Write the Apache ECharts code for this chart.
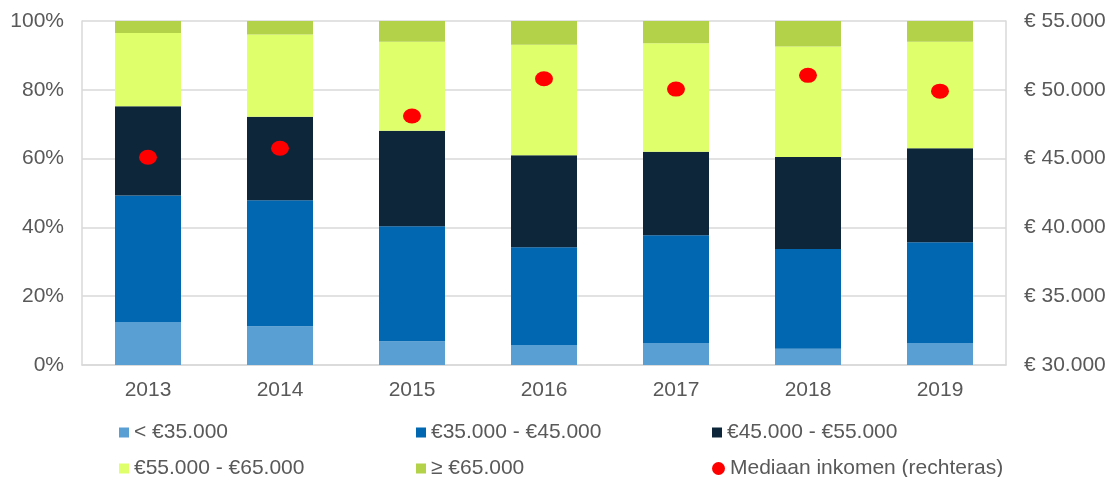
<!DOCTYPE html>
<html>
<head>
<meta charset="utf-8">
<script src="https://cdn.jsdelivr.net/npm/echarts@6/dist/echarts.min.js"></script>
<style>
    html, body { margin: 0; padding: 0; background: #fff; }
    #main { width: 1111px; height: 477px; }
</style>
</head>
<body>
<div id="main"></div>
<script>
// jaren
var years = ['2013', '2014', '2015', '2016', '2017', '2018', '2019'];

// aandeel per inkomensklasse (%)
var lt35 = [12.5, 11.3, 6.9, 5.8, 6.4, 4.7, 6.4];
var k35_45 = [36.8, 36.6, 33.4, 28.4, 31.3, 29.0, 29.3];
var k45_55 = [25.9, 24.3, 27.8, 26.8, 24.3, 26.8, 27.3];
var k55_65 = [21.3, 23.9, 25.9, 32.1, 31.5, 32.1, 31.0];
var ge65 = [3.5, 3.9, 6.0, 6.9, 6.5, 7.4, 6.0];

// mediaan inkomen (rechteras)
var mediaan = [45100, 45750, 48100, 50800, 50050, 51050, 49900];

var names = ['< €35.000', '€35.000 - €45.000', '€45.000 - €55.000',
             '€55.000 - €65.000', '≥ €65.000', 'Mediaan inkomen (rechteras)'];
var colors = ['#5a9fd4', '#0067b0', '#0e263a', '#dfff6b', '#b3d24a', '#ff0000'];
var shares = [lt35, k35_45, k45_55, k55_65, ge65];

var font = 'Liberation Sans, Arial, sans-serif';
var grey = '#595959';

let myChart = echarts.init(document.getElementById('main'));

var series = shares.map(function (d, i) {
    return {
        name: names[i],
        type: 'bar',
        stack: 'totaal',
        barWidth: '50%',
        itemStyle: { color: colors[i] },
        data: d
    };
});
series.push({
    name: names[5],
    type: 'scatter',
    yAxisIndex: 1,
    symbol: 'circle',
    symbolSize: [18, 15],
    itemStyle: { color: colors[5], opacity: 1 },
    z: 5,
    data: mediaan
});

// legenda: 3 kolommen, 2 rijen
var legendLeft = [119, 416, 712];
var legendTop = [422, 458];
var legends = names.map(function (n, i) {
    var isDot = i === 5;
    return {
        data: [{ name: n, icon: isDot ? 'circle' : 'rect' }],
        left: legendLeft[i % 3],
        top: legendTop[Math.floor(i / 3)],
        padding: 0,
        itemWidth: isDot ? 13 : 10,
        itemHeight: isDot ? 13 : 10,
        itemGap: 0,
        selectedMode: false,
        itemStyle: { opacity: 1 },
        textStyle: { fontFamily: font, fontSize: 21, color: grey }
    };
});

option = {
    animation: false,
    backgroundColor: '#fff',
    grid: { left: 82, right: 105, top: 21, bottom: 112 },
    legend: legends,
    xAxis: {
        type: 'category',
        data: years,
        axisTick: { show: false },
        axisLine: { lineStyle: { color: '#d9d9d9', width: 1.5 } },
        axisLabel: { fontFamily: font, fontSize: 21, color: grey, margin: 15 }
    },
    yAxis: [
        {
            type: 'value',
            min: 0,
            max: 100,
            interval: 20,
            axisLine: { show: true, lineStyle: { color: '#d9d9d9', width: 1.5 } },
            axisTick: { show: false },
            splitLine: { lineStyle: { color: '#d9d9d9', width: 1.5 } },
            axisLabel: { fontFamily: font, fontSize: 21, color: grey, margin: 18, formatter: '{value}%' }
        },
        {
            type: 'value',
            min: 30000,
            max: 55000,
            interval: 5000,
            axisLine: { show: true, lineStyle: { color: '#d9d9d9', width: 1.5 } },
            axisTick: { show: false },
            splitLine: { show: false },
            axisLabel: {
                fontFamily: font, fontSize: 21, color: grey, margin: 18,
                formatter: function (v) {
                    return '€ ' + String(v).replace(/\B(?=(\d{3})+(?!\d))/g, '.');
                }
            }
        }
    ],
    series: series
};

myChart.setOption(option);
</script>
</body>
</html>
